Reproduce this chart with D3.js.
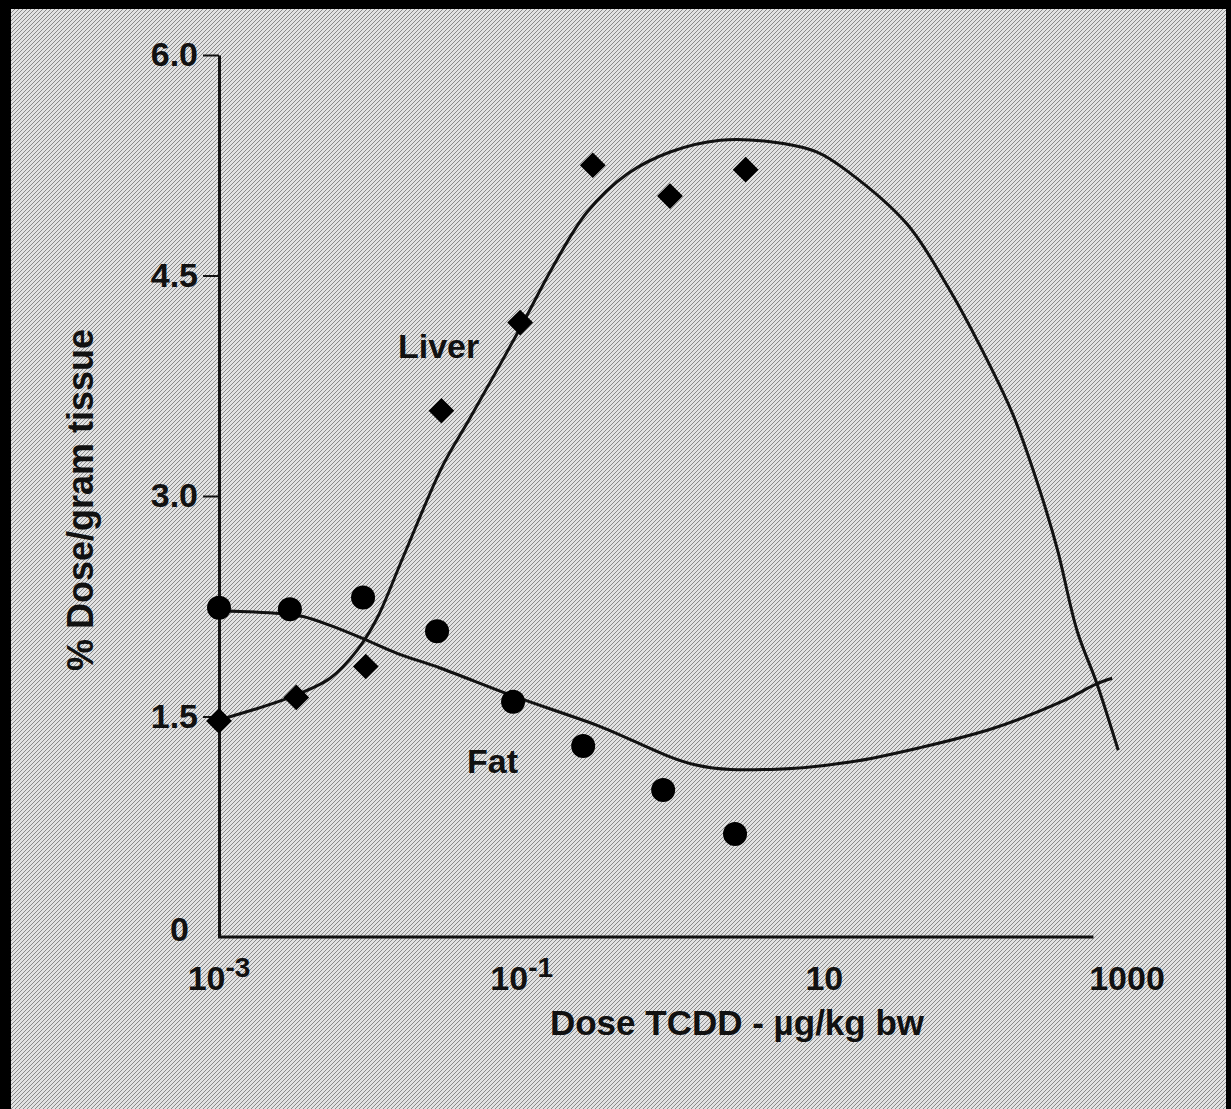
<!DOCTYPE html>
<html>
<head>
<meta charset="utf-8">
<script src="https://cdn.jsdelivr.net/npm/d3@7"></script>
<style>
body { margin: 0; background: #000; }
text { font-family: "Liberation Sans", Arial, sans-serif; font-weight: bold; fill: #111; }
</style>
</head>
<body>
<script>
// puntos medidos (higado = rombos, grasa = circulos)
const liverDosis = [0.001, 0.00324, 0.00933, 0.0295, 0.0977, 0.295, 0.955, 3.02]
const liverValor = [1.47, 1.63, 1.84, 3.58, 4.18, 5.25, 5.04, 5.22]

const fatDosis = [0.001, 0.00294, 0.00895, 0.0276, 0.0877, 0.255, 0.861, 2.57]
const fatValor = [2.24, 2.23, 2.31, 2.08, 1.60, 1.30, 1.00, 0.70]

// curvas ajustadas, leidas a ojo del grafico
const curvaLiverDosis = [0.00103, 0.00294, 0.00542, 0.00817, 0.0111, 0.0164, 0.0302, 0.0456, 0.0975, 0.161, 0.270, 0.498, 0.957,
    2.05, 4.39, 8.95, 14.2, 35.2, 64.9, 107, 177, 267, 346, 469, 635, 875]
const curvaLiverValor = [1.48, 1.63, 1.76, 1.95, 2.17, 2.58, 3.21, 3.53, 4.14, 4.56, 4.93, 5.19, 5.34,
    5.42, 5.41, 5.34, 5.21, 4.85, 4.43, 4.02, 3.55, 3.03, 2.64, 2.08, 1.72, 1.27]

const curvaFatDosis = [0.00103, 0.00253, 0.00359, 0.00542, 0.00895, 0.0150, 0.0289, 0.0877, 0.315, 1.42, 4.45, 14.8, 43.7, 131, 385, 625, 798]
const curvaFatValor = [2.22, 2.20, 2.18, 2.12, 2.03, 1.93, 1.83, 1.64, 1.44, 1.17, 1.14, 1.19, 1.29, 1.42, 1.61, 1.72, 1.76]

// ejes
const yTicks = [0, 1.5, 3.0, 4.5, 6.0]
const yTickLabels = ["0", "1.5", "3.0", "4.5", "6.0"]
const xTicks = [0.001, 0.1, 10, 1000]
const xTickBase = ["10", "10", "10", "1000"]
const xTickExp = ["-3", "-1", "", ""]
const xAxisEnd = 600   // la linea del eje x se corta antes de 1000

var width = 1231
var height = 1109

var svg = d3.select("body")
    .append("svg")
        .attr("width", width)
        .attr("height", height)
        .style("display", "block")

// fondo gris tipo trama de imprenta
var defs = svg.append("defs")
var pat = defs.append("pattern")
    .attr("id", "trama")
    .attr("width", 4)
    .attr("height", 4)
    .attr("patternUnits", "userSpaceOnUse")
pat.append("rect").attr("width", 4).attr("height", 4).attr("fill", "#e2e2e2")
pat.selectAll("rect.p")
    .data([[0, 3], [1, 2], [2, 1], [3, 0]])
    .enter()
    .append("rect")
        .attr("class", "p")
        .attr("x", d => d[0])
        .attr("y", d => d[1])
        .attr("width", 1)
        .attr("height", 1)
        .attr("fill", "#8a8a8a")

svg.append("rect")
    .attr("width", width)
    .attr("height", height)
    .attr("fill", "#000")
svg.append("rect")
    .attr("x", 11)
    .attr("y", 9)
    .attr("width", width - 11 - 5)
    .attr("height", height - 9)
    .attr("fill", "url(#trama)")

// escalas
var x = d3.scaleLog()
    .domain([0.001, 1000])
    .range([219, 1127])

var y = d3.scaleLinear()
    .domain([0, 6])
    .range([937, 55])

// EJE Y
var ejeY = svg.append("g")
    .attr("transform", "translate(" + x(0.001) + ",0)")
    .call(d3.axisLeft(y)
        .tickValues(yTicks)
        .tickSize(16)
        .tickSizeOuter(0)
        .tickPadding(5)
        .tickFormat((d, i) => yTickLabels[i]))
ejeY.attr("font-family", null).attr("font-size", null)
ejeY.select(".domain").attr("stroke", "#111").attr("stroke-width", 3)
ejeY.selectAll(".tick line").attr("stroke", "#111").attr("stroke-width", 2)
ejeY.selectAll(".tick text")
    .style("font-size", "34px")
    .attr("fill", "#111")
ejeY.selectAll(".tick").filter(d => d == 0).select("line").remove()
ejeY.selectAll(".tick").filter(d => d == 0).select("text").attr("x", -30).attr("dy", "0.1em")

// EJE X
svg.append("line")
    .attr("x1", x(0.001) - 1)
    .attr("x2", x(xAxisEnd))
    .attr("y1", y(0))
    .attr("y2", y(0))
    .attr("stroke", "#111")
    .attr("stroke-width", 3)

var etiquetasX = svg.append("g")
    .selectAll("text")
    .data(xTicks)
    .enter()
    .append("text")
        .attr("x", d => x(d))
        .attr("y", 990)
        .attr("text-anchor", "middle")
        .style("font-size", "34px")
etiquetasX.append("tspan").text((d, i) => xTickBase[i])
etiquetasX.append("tspan")
    .attr("dy", -13)
    .style("font-size", "28px")
    .text((d, i) => xTickExp[i])

// titulos de ejes
svg.append("text")
    .attr("x", 737)
    .attr("y", 1035)
    .attr("text-anchor", "middle")
    .style("font-size", "35px")
    .text("Dose TCDD - \u00b5g/kg bw")

svg.append("text")
    .attr("transform", "translate(93,500) rotate(-90)")
    .attr("text-anchor", "middle")
    .style("font-size", "36px")
    .text("% Dose/gram tissue")

// curvas
const liverCurva = curvaLiverDosis.map((d, i) => ({dosis: d, valor: curvaLiverValor[i]}))
const fatCurva = curvaFatDosis.map((d, i) => ({dosis: d, valor: curvaFatValor[i]}))

const linea = d3.line()
    .x(d => x(d.dosis))
    .y(d => y(d.valor))
    .curve(d3.curveCatmullRom.alpha(0.5))

svg.append("path")
    .datum(liverCurva)
    .attr("fill", "none")
    .attr("stroke", "#111")
    .attr("stroke-width", 3)
    .attr("d", linea)

svg.append("path")
    .datum(fatCurva)
    .attr("fill", "none")
    .attr("stroke", "#111")
    .attr("stroke-width", 3)
    .attr("d", linea)

// rombos del higado
svg.append("g")
    .selectAll("path")
    .data(liverDosis)
    .enter()
    .append("path")
        .attr("d", d3.symbol().type(d3.symbolSquare).size(330))
        .attr("transform", (d, i) => "translate(" + x(d) + "," + y(liverValor[i]) + ") rotate(45)")
        .attr("fill", "#000")

// circulos de la grasa
svg.append("g")
    .selectAll("circle")
    .data(fatDosis)
    .enter()
    .append("circle")
        .attr("cx", d => x(d))
        .attr("cy", (d, i) => y(fatValor[i]))
        .attr("r", 12)
        .attr("fill", "#000")

// rotulos de series
svg.append("text")
    .attr("x", 398)
    .attr("y", 358)
    .style("font-size", "34px")
    .text("Liver")

svg.append("text")
    .attr("x", 467)
    .attr("y", 773)
    .style("font-size", "34px")
    .text("Fat")
</script>
</body>
</html>
